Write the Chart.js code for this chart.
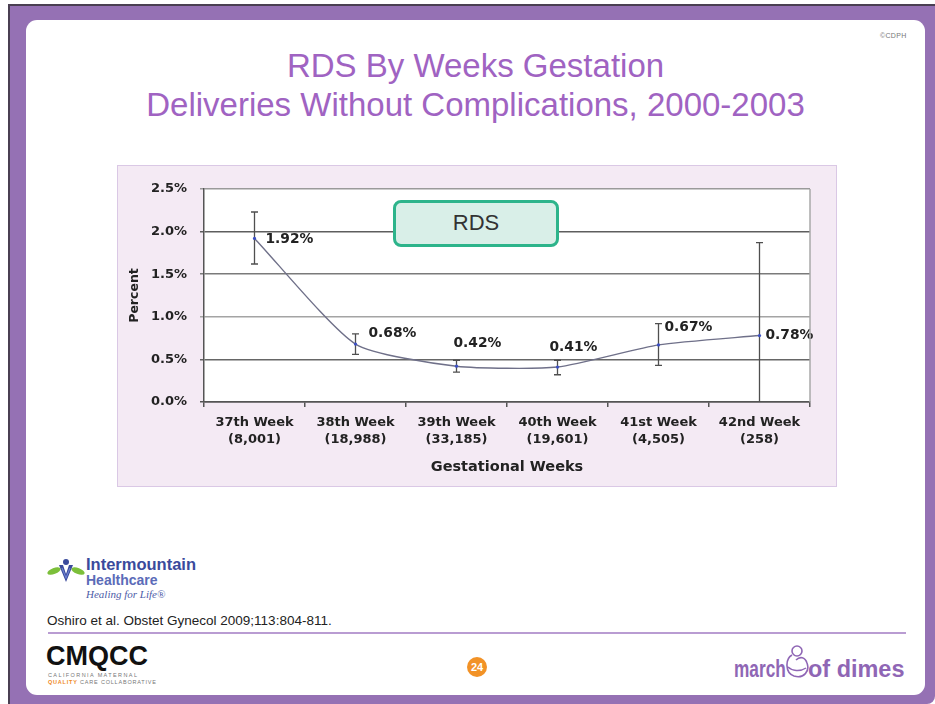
<!DOCTYPE html>
<html>
<head>
<meta charset="utf-8">
<title>RDS By Weeks Gestation</title>
<script src="https://cdn.jsdelivr.net/npm/chart.js@4.4.1/dist/chart.umd.min.js"></script>
<style>
  html, body { margin: 0; padding: 0; width: 935px; height: 704px; overflow: hidden; background: #fff;
    font-family: "Liberation Sans", Arial, sans-serif; }
  .abs { position: absolute; }
  #frame { left: 8px; top: 4px; width: 927px; height: 700px; background: #9571b4;
    border-top: 2px solid #4a3f52; border-left: 2px solid #4a3f52; box-sizing: border-box;
    border-bottom-right-radius: 8px; }
  #slide { left: 26px; top: 20px; width: 899px; height: 675px; background: #fff; border-radius: 11px; }
  #copy { left: 880px; top: 32px; font-size: 7px; color: #777; letter-spacing: 0.3px; }
  #title { left: 26px; top: 46px; width: 899px; text-align: center; color: #a063c2;
    font-size: 33px; line-height: 39px; }
  #chartBg { left: 117px; top: 165px; width: 720px; height: 322px; background: #f4eaf4;
    border: 1px solid #dac8e5; box-sizing: border-box; }
  #chartWrap { left: 117px; top: 165px; width: 720px; height: 322px; }
  #rdsBox { left: 393px; top: 200px; width: 166px; height: 47px; box-sizing: border-box;
    border: 3px solid #2db48b; border-radius: 8px; background: #d9efe8; color: #333;
    font-size: 22px; text-align: center; line-height: 40px; z-index: 3; }
  #imhText1 { left: 86px; top: 555px; font-size: 16.5px; font-weight: bold; color: #3a4a9c; }
  #imhText2 { left: 86px; top: 572px; font-size: 14px; font-weight: bold; color: #5b6bb8; }
  #imhText3 { left: 86px; top: 588px; font-size: 11px; font-style: italic; color: #4d5ca8;
    font-family: "Liberation Serif", serif; }
  #cite { left: 47px; top: 613px; font-size: 13.5px; color: #222; }
  #rule { left: 48px; top: 632px; width: 858px; height: 2px; background: #b99cd2; }
  #cmqcc { left: 46px; top: 641px; font-size: 27px; font-weight: bold; color: #111; }
  #cmqccSub1 { left: 48px; top: 672px; font-size: 5.5px; color: #777; letter-spacing: 1.4px; }
  #cmqccSub2 { left: 48px; top: 679px; font-size: 5.5px; color: #777; letter-spacing: 0.8px; }
  #cmqccSub2 b { color: #ef8a1f; }
  #page { left: 467px; top: 657px; width: 20px; height: 20px; border-radius: 50%; background: #f29226;
    color: #fff; font-weight: bold; font-size: 11px; text-align: center; line-height: 20px; }
  #mod1 { left: 734px; top: 656px; font-size: 23px; font-weight: bold; color: #8f66b5;
    transform: scaleX(0.75); transform-origin: left top; }
  #mod2 { left: 808px; top: 656px; font-size: 23px; font-weight: bold; color: #8f66b5;
    transform: scaleX(1.02); transform-origin: left top; }
</style>
</head>
<body>
<div id="frame" class="abs"></div>
<div id="slide" class="abs"></div>
<div id="copy" class="abs">©CDPH</div>
<div id="title" class="abs">RDS By Weeks Gestation<br>Deliveries Without Complications, 2000-2003</div>

<div id="chartBg" class="abs"></div>
<div id="chartWrap" class="abs"><canvas id="rdsChart" width="720" height="322"></canvas></div>
<div id="rdsBox" class="abs">RDS</div>

<svg class="abs" style="left:46px;top:556px" width="40" height="30" viewBox="0 0 40 30">
  <ellipse cx="8" cy="15" rx="7" ry="3" fill="#7cbf3a" transform="rotate(-20 8 15)"/>
  <ellipse cx="32" cy="15" rx="7" ry="3" fill="#7cbf3a" transform="rotate(20 32 15)"/>
  <circle cx="20" cy="6" r="3" fill="#3a4a9c"/>
  <path d="M13 9 L20 26 L27 9 L23 9 L20 18 L17 9 Z" fill="#3a4a9c"/>
  <path d="M16 12 L20 22 L24 12" stroke="#6b7fd0" stroke-width="1.2" fill="none"/>
</svg>
<div id="imhText1" class="abs">Intermountain</div>
<div id="imhText2" class="abs">Healthcare</div>
<div id="imhText3" class="abs">Healing for Life®</div>
<div id="cite" class="abs">Oshiro et al. Obstet Gynecol 2009;113:804-811.</div>
<div id="rule" class="abs"></div>
<div id="cmqcc" class="abs">CMQCC</div>
<div id="cmqccSub1" class="abs">CALIFORNIA MATERNAL</div>
<div id="cmqccSub2" class="abs"><b>QUALITY</b> CARE COLLABORATIVE</div>
<div id="page" class="abs">24</div>
<div id="mod1" class="abs">march</div>
<svg class="abs" style="left:784px;top:643px" width="26" height="38" viewBox="0 0 26 38">
  <circle cx="13" cy="8" r="5" fill="none" stroke="#8f66b5" stroke-width="1.6"/>
  <path d="M8 12 C1 16 1 30 10 33 C20 36 26 28 23 20 C21 14 16 13 12 17" fill="none" stroke="#8f66b5" stroke-width="1.6"/>
  <path d="M4 24 C8 28 16 29 22 25" fill="none" stroke="#8f66b5" stroke-width="1.4"/>
</svg>
<div id="mod2" class="abs">of dimes</div>

<script>
// Gestational week categories and number of deliveries in each
const weeks = ['37th Week', '38th Week', '39th Week', '40th Week', '41st Week', '42nd Week'];
const deliveries = [8001, 18988, 33185, 19601, 4505, 258];

// RDS rate (%) with 95% confidence limits
const rdsPercent = [1.92, 0.68, 0.42, 0.41, 0.67, 0.78];
const ciLower = [1.62, 0.56, 0.35, 0.32, 0.43, 0.00];
const ciUpper = [2.23, 0.80, 0.49, 0.49, 0.92, 1.87];

// Y-axis tick values (%)
const percentTicks = [0, 0.5, 1.0, 1.5, 2.0, 2.5];

const FONT = '"DejaVu Sans", Verdana, sans-serif';

const categoryLabels = weeks.map((w, i) => [w, '(' + deliveries[i].toLocaleString('en-US') + ')']);

// Gridline shades per tick value
const gridShades = { 0: '#555555', 0.5: '#666666', 1: '#a4a4a4', 1.5: '#7a7a7a', 2: '#5e5e5e', 2.5: '#9a9a9a' };

// White plot area plus light border on the right
const plotArea = {
  id: 'plotArea',
  beforeDraw(chart) {
    const { ctx, chartArea: a } = chart;
    ctx.save();
    ctx.fillStyle = '#ffffff';
    ctx.fillRect(a.left, a.top, a.right - a.left, a.bottom - a.top);
    ctx.restore();
  },
  afterDraw(chart) {
    const { ctx, chartArea: a } = chart;
    ctx.save();
    ctx.strokeStyle = '#a8a8a8';
    ctx.lineWidth = 1.5;
    ctx.beginPath();
    ctx.moveTo(a.right, a.top);
    ctx.lineTo(a.right, a.bottom);
    ctx.stroke();
    ctx.restore();
  }
};

// Vertical confidence-interval whiskers
const errorBars = {
  id: 'errorBars',
  beforeDatasetsDraw(chart, args, opts) {
    const { ctx, scales: { x, y } } = chart;
    ctx.save();
    ctx.strokeStyle = opts.color;
    ctx.lineWidth = opts.width;
    rdsPercent.forEach((v, i) => {
      const px = x.getPixelForValue(i);
      const yHi = y.getPixelForValue(ciUpper[i]);
      const yLo = y.getPixelForValue(ciLower[i]);
      ctx.beginPath();
      ctx.moveTo(px, yHi); ctx.lineTo(px, yLo);
      ctx.moveTo(px - opts.cap, yHi); ctx.lineTo(px + opts.cap, yHi);
      if (ciLower[i] > 0) { ctx.moveTo(px - opts.cap, yLo); ctx.lineTo(px + opts.cap, yLo); }
      ctx.stroke();
    });
    ctx.restore();
  }
};

// Percentage labels next to each point
const valueLabels = {
  id: 'valueLabels',
  afterDatasetsDraw(chart, args, opts) {
    const { ctx } = chart;
    const meta = chart.getDatasetMeta(0);
    ctx.save();
    ctx.font = 'bold ' + opts.size + 'px ' + FONT;
    ctx.fillStyle = opts.color;
    ctx.textAlign = 'left';
    ctx.textBaseline = 'middle';
    meta.data.forEach((pt, i) => {
      const [dx, dy] = opts.offsets[i];
      ctx.fillText(rdsPercent[i].toFixed(2) + '%', pt.x + dx, pt.y + dy);
    });
    ctx.restore();
  }
};

new Chart(document.getElementById('rdsChart'), {
  type: 'line',
  data: {
    labels: categoryLabels,
    datasets: [{
      data: rdsPercent,
      borderColor: '#6f7089',
      borderWidth: 1.4,
      tension: 0.2,
      pointRadius: 1.6,
      pointBackgroundColor: '#3b4fc4',
      pointBorderWidth: 0,
      fill: false
    }]
  },
  options: {
    responsive: false,
    animation: false,
    devicePixelRatio: 1,
    layout: { padding: { top: 24, right: 27, left: 0, bottom: 0 } },
    plugins: {
      legend: { display: false },
      tooltip: { enabled: false },
      errorBars: { color: '#4f4f4f', width: 1.3, cap: 3.5 },
      valueLabels: {
        size: 13.8, color: '#222',
        offsets: [[11, 1], [13, -11], [-3, -23], [-8, -20], [6, -18], [6, 0]]
      }
    },
    scales: {
      x: {
        offset: true,
        grid: { offset: true, drawOnChartArea: false, drawTicks: true, tickLength: 5, color: '#555', lineWidth: 1.5 },
        border: { color: '#555', width: 1.5 },
        ticks: {
          font: { family: FONT, weight: 'bold', size: 13, lineHeight: 1.3 },
          color: '#222', padding: 7, maxRotation: 0, autoSkip: false
        },
        title: {
          display: true, text: 'Gestational Weeks', color: '#222',
          font: { family: FONT, weight: 'bold', size: 14.5 },
          padding: { top: 0, bottom: 11 }
        },
        afterFit(s) { s.height = 85; }
      },
      y: {
        min: 0, max: 2.5,
        afterBuildTicks(s) { s.ticks = percentTicks.map(v => ({ value: v })); },
        grid: {
          color: c => (c.tick && gridShades[c.tick.value]) || '#666666',
          lineWidth: 1.5, tickLength: 4, drawTicks: true
        },
        border: { color: '#555', width: 1.5 },
        ticks: {
          callback: v => Number(v).toFixed(1) + '%',
          font: { family: FONT, weight: 'bold', size: 13 },
          color: '#222', padding: 13
        },
        title: {
          display: true, text: 'Percent', color: '#222',
          font: { family: FONT, weight: 'bold', size: 12.5 },
          padding: { top: 10, bottom: 0 }
        },
        afterFit(s) { s.width = 87; }
      }
    }
  },
  plugins: [plotArea, errorBars, valueLabels]
});
</script>
</body>
</html>
